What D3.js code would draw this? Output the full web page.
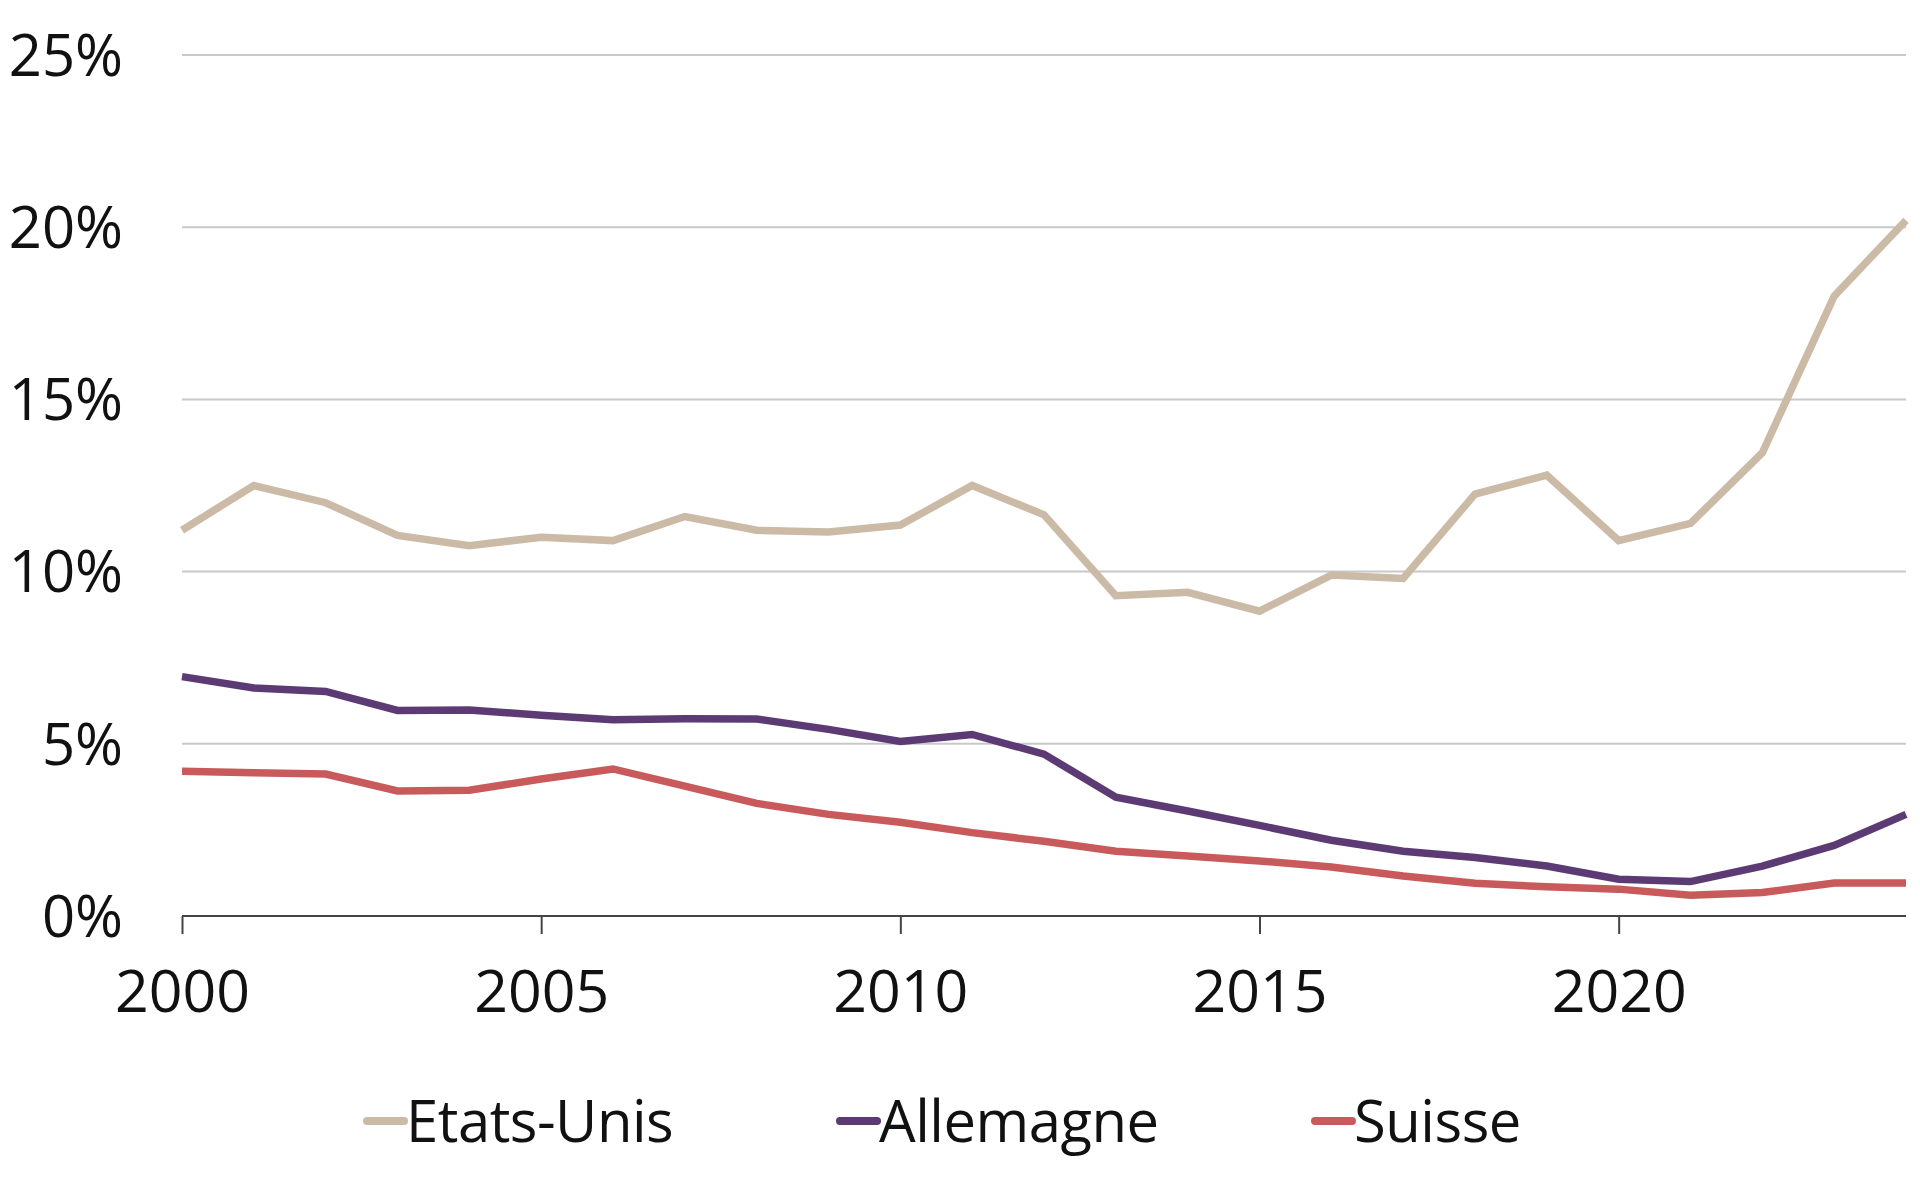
<!DOCTYPE html>
<html>
<head>
<meta charset="utf-8">
<script src="https://cdn.jsdelivr.net/npm/d3@7"></script>
<style>
  body { margin: 0; background: #fff; }
  text { font-family: "Open Sans", "Noto Sans", sans-serif; fill: #111; }
</style>
</head>
<body>
<div id="chart"></div>
<script>
const years = d3.range(2000, 2025);
const etatsUnis = [11.2, 12.5, 12.0, 11.05, 10.75, 11.0, 10.9, 11.6, 11.2, 11.15, 11.35,
  12.5, 11.65, 9.3, 9.4, 8.85, 9.9, 9.8, 12.25, 12.8, 10.9, 11.4, 13.45, 18.0, 20.2];
const allemagne = [6.95, 6.62, 6.52, 5.97, 5.98, 5.83, 5.7, 5.73, 5.72, 5.42, 5.07,
  5.27, 4.7, 3.45, 3.05, 2.63, 2.2, 1.88, 1.7, 1.45, 1.07, 1.0, 1.45, 2.05, 2.95];
const suisse = [4.2, 4.16, 4.12, 3.63, 3.65, 3.98, 4.27, 3.77, 3.27, 2.95, 2.72,
  2.42, 2.17, 1.88, 1.74, 1.6, 1.42, 1.16, 0.95, 0.85, 0.78, 0.6, 0.68, 0.96, 0.96];
const yTicks = [0, 5, 10, 15, 20, 25];
const xTicks = [2000, 2005, 2010, 2015, 2020];

const series = [
  { name: "Etats-Unis", values: etatsUnis, color: "#cbbba6" },
  { name: "Allemagne", values: allemagne, color: "#5c3b74" },
  { name: "Suisse", values: suisse, color: "#c95a5b" }
];

const width = 1920, height = 1200;
const svg = d3.select("#chart").append("svg")
  .attr("width", width)
  .attr("height", height);

const x = d3.scaleLinear().domain([2000, 2024]).range([182, 1906]);
const y = d3.scaleLinear().domain([0, 25]).range([916, 55]);

// grid lines
svg.append("g")
  .selectAll("line")
  .data(yTicks.filter(d => d > 0))
  .enter().append("line")
  .attr("x1", x(2000))
  .attr("x2", x(2024))
  .attr("y1", d => y(d))
  .attr("y2", d => y(d))
  .style("stroke", "#c8c8c8")
  .style("stroke-width", 2);

// y labels
svg.append("g")
  .selectAll("text")
  .data(yTicks)
  .enter().append("text")
  .attr("x", 123)
  .attr("y", d => y(d))
  .attr("dy", "0.36em")
  .attr("text-anchor", "end")
  .style("font-size", "58px")
  .text(d => d + "%");

// x axis
const xAxis = d3.axisBottom(x)
  .tickValues(xTicks)
  .tickSize(18)
  .tickPadding(36)
  .tickFormat(d3.format("d"));

const gx = svg.append("g")
  .attr("transform", `translate(0,${y(0)})`)
  .call(xAxis);
gx.select(".domain").attr("d", `M${x(2000)},0H${x(2024)}`).style("stroke", "#444").style("stroke-width", 2);
gx.selectAll(".tick line").style("stroke", "#444").style("stroke-width", 2);
gx.selectAll(".tick text").style("font-size", "59px").style("font-family", "'Open Sans', sans-serif").attr("fill", "#111");

// lines
const line = d3.line()
  .x((d, i) => x(years[i]))
  .y(d => y(d));

svg.append("g")
  .selectAll("path")
  .data(series)
  .enter().append("path")
  .attr("d", d => line(d.values))
  .style("fill", "none")
  .style("stroke", d => d.color)
  .style("stroke-width", 7.5)
  .style("stroke-linejoin", "miter");

// legend
const legendX = [367, 840, 1315];
const legend = svg.append("g")
  .selectAll("g")
  .data(series)
  .enter().append("g")
  .attr("transform", (d, i) => `translate(${legendX[i]},1121)`);

legend.append("line")
  .attr("x1", 0).attr("x2", 37)
  .attr("y1", 0).attr("y2", 0)
  .style("stroke", d => d.color)
  .style("stroke-width", 8)
  .style("stroke-linecap", "round");

legend.append("text")
  .attr("x", 39)
  .attr("dy", "0.36em")
  .style("font-size", "58px")
  .style("letter-spacing", "-0.5px")
  .text(d => d.name);
</script>
</body>
</html>
